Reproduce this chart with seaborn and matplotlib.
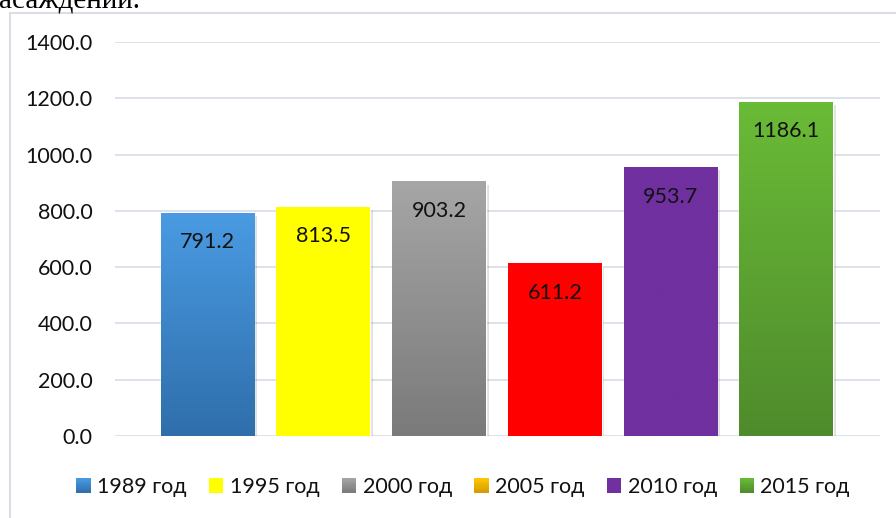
import numpy as np
import pandas as pd
import matplotlib
matplotlib.use('Agg')
import matplotlib.pyplot as plt
import matplotlib.patheffects as pe
from matplotlib.colors import LinearSegmentedColormap, to_rgb
from matplotlib.legend_handler import HandlerBase
from matplotlib.patches import Rectangle
from matplotlib.lines import Line2D
import seaborn as sns

# data
years = ['1989 год', '1995 год', '2000 год', '2005 год', '2010 год', '2015 год']
values = [791.2, 813.5, 903.2, 611.2, 953.7, 1186.1]
yticks = [0, 200, 400, 600, 800, 1000, 1200, 1400]

# bar colours: (top, bottom) of the vertical gradient
bar_colors = [('#4a9be3', '#2f6eab'), ('#ffff00', '#ffff00'), ('#a6a6a6', '#7a7a7a'),
              ('#ff0000', '#ff0000'), ('#7030a0', '#7030a0'), ('#6abb37', '#4f8b2c')]
# legend swatches (2005 swatch is gold in the original)
legend_colors = [('#4a9be3', '#2f6eab'), ('#ffff00', '#ffff00'), ('#a6a6a6', '#7a7a7a'),
                 ('#ffc800', '#d69a00'), ('#7030a0', '#7030a0'), ('#6abb37', '#4f8b2c')]

df = pd.DataFrame({'year': years, 'value': values})

sns.set_style('white')
plt.rcParams['font.family'] = ['Lato', 'DejaVu Sans']

fig = plt.figure(figsize=(8.96, 5.18), dpi=100)
ax = fig.add_axes([115 / 896, 1 - 436 / 518, 765 / 896, 394 / 518])

sns.barplot(data=df, x='year', y='value', hue='year', palette=[c[1] for c in bar_colors],
            width=0.81, dodge=False, legend=False, ax=ax, zorder=3)

# gradient fill + soft shadow
for patch, (top, bot) in zip(ax.patches, bar_colors):
    patch.set_path_effects([pe.SimplePatchShadow(offset=(2, -2), alpha=0.18, shadow_rgbFace='#555555'),
                            pe.Normal()])
    x0, w, h = patch.get_x(), patch.get_width(), patch.get_height()
    cmap = LinearSegmentedColormap.from_list('g', [bot, top])
    grad = np.linspace(0, 1, 256).reshape(-1, 1)
    ax.imshow(grad, cmap=cmap, extent=(x0, x0 + w, 0, h), origin='lower',
              aspect='auto', zorder=3.5, interpolation='bicubic')
ax.set_xlim(-0.80, 5.81)
ax.set_ylim(0, 1400)

# value labels inside the bars near the top
for patch, v in zip(ax.patches, values):
    ax.annotate(f'{v:.1f}', (patch.get_x() + patch.get_width() / 2, v),
                xytext=(0, -29), textcoords='offset pixels', ha='center', va='center',
                fontsize=15.5, color='#111111', zorder=5)

ax.set_yticks(yticks)
ax.set_yticklabels([f'{t:.1f}' for t in yticks], fontsize=15.5, color='#111111')
ax.tick_params(axis='y', length=0, pad=16)
ax.set_xticks([])
ax.set_xlabel('')
ax.set_ylabel('')
ax.grid(axis='y', color='#dde2ea', linewidth=1.4, zorder=0)
ax.set_axisbelow(True)
for s in ax.spines.values():
    s.set_visible(False)


class GradHandler(HandlerBase):
    def create_artists(self, legend, orig_handle, xdescent, ydescent, width, height, fontsize, trans):
        top, bot = orig_handle
        n = 12
        arts = []
        c0, c1 = np.array(to_rgb(bot)), np.array(to_rgb(top))
        for i in range(n):
            c = c0 + (c1 - c0) * (i + 0.5) / n
            arts.append(Rectangle((-xdescent, -ydescent + height * i / n), width, height / n * 1.05,
                                  facecolor=c, edgecolor='none', transform=trans))
        return arts


class Swatch:
    def __init__(self, top, bot):
        self.top, self.bot = top, bot

    def __iter__(self):
        return iter((self.top, self.bot))


handles = [Swatch(t, b) for t, b in legend_colors]
fig.legend(handles, years, handler_map={Swatch: GradHandler()}, loc='center',
           bbox_to_anchor=(463 / 896, 1 - 487 / 518), ncol=6, frameon=False, fontsize=15.5,
           handlelength=0.66, handleheight=0.66, handletextpad=0.3, columnspacing=1.05,
           labelcolor='#111111')

# chart border (partly cropped) and cropped caption above
fig.add_artist(Line2D([9.5 / 896, 9.5 / 896], [-0.1, 1 - 13 / 518], transform=fig.transFigure,
                      color='#d9dee5', linewidth=1.5))
fig.add_artist(Line2D([9.5 / 896, 1.1], [1 - 13 / 518, 1 - 13 / 518], transform=fig.transFigure,
                      color='#d9dee5', linewidth=1.5))
fig.text(-0.001, 1 - 9 / 518, 'асаждений.', family='Liberation Serif', fontsize=21,
         color='black', ha='left', va='baseline')

fig.savefig('out.png', dpi=100)
